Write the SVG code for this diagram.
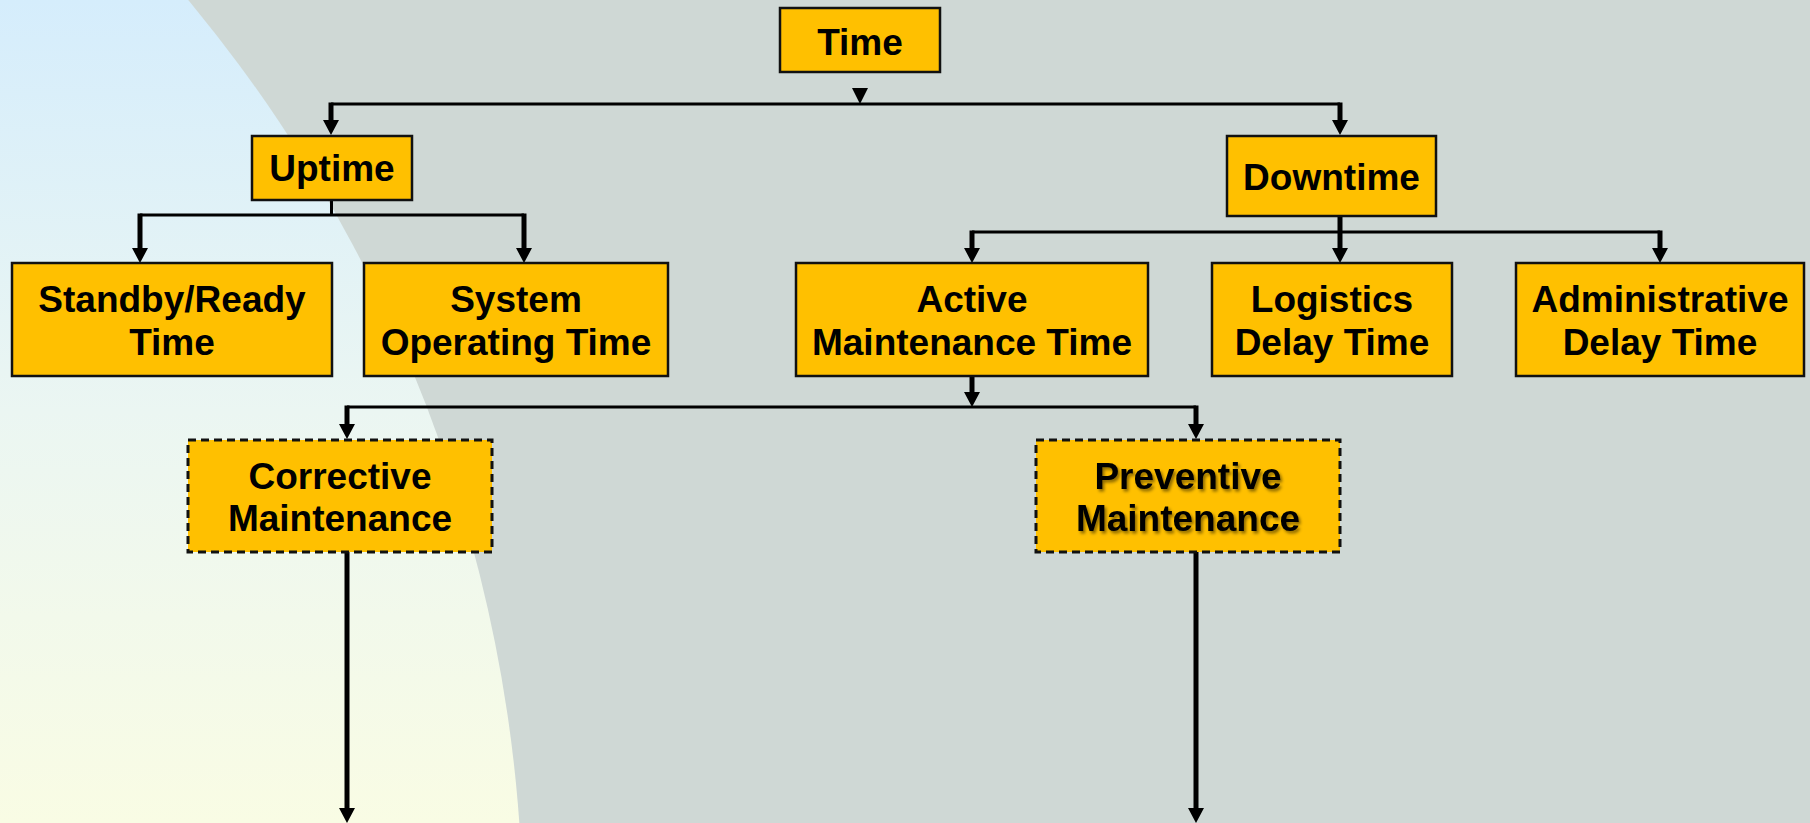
<svg xmlns="http://www.w3.org/2000/svg" width="1810" height="823" viewBox="0 0 1810 823">
<defs>
<linearGradient id="bgGrad" gradientUnits="userSpaceOnUse" x1="0" y1="0" x2="0" y2="823">
<stop offset="0" stop-color="#d5edfc"/>
<stop offset="0.5" stop-color="#ebf6f2"/>
<stop offset="1" stop-color="#f9fce4"/>
</linearGradient>
<marker id="arr" markerUnits="userSpaceOnUse" markerWidth="16" markerHeight="16" refX="0" refY="8" orient="auto" viewBox="0 0 16 16">
<path d="M0,0 L15,8 L0,16 z" fill="#000"/>
</marker>
<filter id="tshadow" x="-10%" y="-20%" width="130%" height="150%">
<feDropShadow dx="2" dy="2.5" stdDeviation="1.5" flood-color="#000" flood-opacity="0.45"/>
</filter>
<style>
.box{fill:#ffc000;stroke:#111;stroke-width:2.5}
.dash{fill:#ffc000;stroke:#111;stroke-width:3;stroke-dasharray:8 5}
.lbl{font-family:"Liberation Sans",Arial,sans-serif;font-weight:bold;font-size:37px;fill:#000;text-anchor:middle}
.thin{fill:none;stroke:#000;stroke-width:3}
.thick{fill:none;stroke:#000;stroke-width:5;marker-end:url(#arr)}
</style>
</defs>
<rect x="0" y="0" width="1810" height="823" fill="#cfd8d5"/>
<circle cx="-925" cy="926" r="1448" fill="url(#bgGrad)"/>

<g id="connectors">
<polygon points="852,88 868,88 860,104" fill="#000"/>
<path class="thin" d="M331,104 H1340"/>
<path class="thick" d="M331,102.5 V120"/>
<path class="thick" d="M1340,102.5 V120"/>
<path class="thin" d="M331.5,200 V215 M140,215 H524"/>
<path class="thick" d="M140,213.5 V248"/>
<path class="thick" d="M524,213.5 V248"/>
<path class="thin" d="M972,232 H1660"/>
<path class="thick" d="M1340,216 V248"/>
<path class="thick" d="M972,230.5 V248"/>
<path class="thick" d="M1660,230.5 V248"/>
<path class="thick" d="M972,376 V392"/>
<path class="thin" d="M347,407 H1196"/>
<path class="thick" d="M347,405.5 V424"/>
<path class="thick" d="M1196,405.5 V424"/>
<path class="thick" d="M347,552 V808"/>
<path class="thick" d="M1196,552 V808"/>
</g>

<g id="time">
<rect class="box" x="780" y="8" width="160" height="64"/>
<text class="lbl" x="860" y="55">Time</text>
</g>
<g id="uptime">
<rect class="box" x="252" y="136" width="160" height="64"/>
<text class="lbl" x="332" y="181">Uptime</text>
</g>
<g id="downtime">
<rect class="box" x="1227" y="136" width="209" height="80"/>
<text class="lbl" x="1331.5" y="190">Downtime</text>
</g>
<g id="standby">
<rect class="box" x="12" y="263" width="320" height="113"/>
<text class="lbl" x="172" y="312">Standby/Ready</text>
<text class="lbl" x="172" y="355">Time</text>
</g>
<g id="sysop">
<rect class="box" x="364" y="263" width="304" height="113"/>
<text class="lbl" x="516" y="312">System</text>
<text class="lbl" x="516" y="355">Operating Time</text>
</g>
<g id="active">
<rect class="box" x="796" y="263" width="352" height="113"/>
<text class="lbl" x="972" y="312">Active</text>
<text class="lbl" x="972" y="355">Maintenance Time</text>
</g>
<g id="logistics">
<rect class="box" x="1212" y="263" width="240" height="113"/>
<text class="lbl" x="1332" y="312">Logistics</text>
<text class="lbl" x="1332" y="355">Delay Time</text>
</g>
<g id="admin">
<rect class="box" x="1516" y="263" width="288" height="113"/>
<text class="lbl" x="1660" y="312">Administrative</text>
<text class="lbl" x="1660" y="355">Delay Time</text>
</g>
<g id="corrective">
<rect class="dash" x="188" y="440" width="304" height="112"/>
<text class="lbl" x="340" y="489">Corrective</text>
<text class="lbl" x="340" y="531">Maintenance</text>
</g>
<g id="preventive">
<rect class="dash" x="1036" y="440" width="304" height="112"/>
<g filter="url(#tshadow)">
<text class="lbl" x="1188" y="489">Preventive</text>
<text class="lbl" x="1188" y="531">Maintenance</text>
</g>
</g>
</svg>
